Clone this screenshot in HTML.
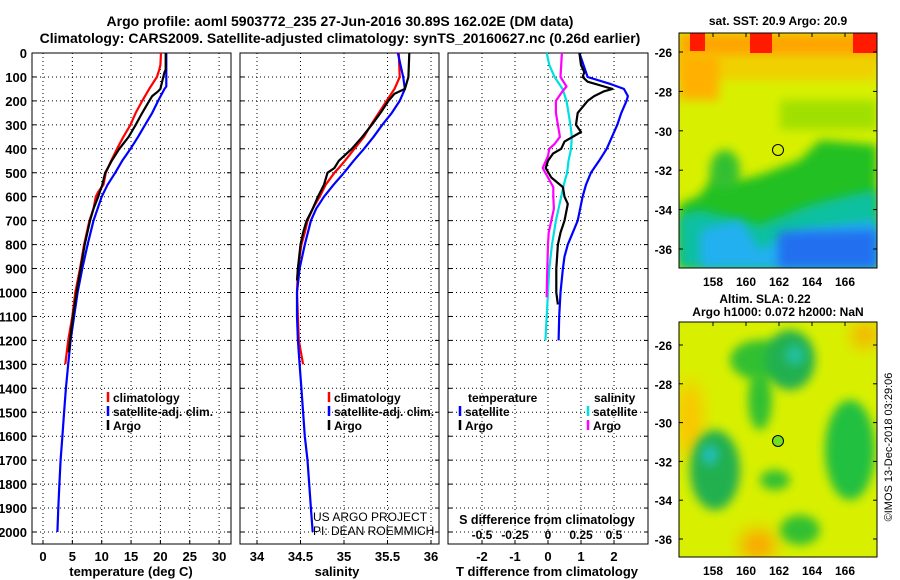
<!DOCTYPE html>
<html><head><meta charset="utf-8"><style>
body{margin:0;background:#fff}
svg{display:block;font-family:"Liberation Sans",sans-serif;font-weight:bold}
</style></head><body>
<svg id="c" width="900" height="580" viewBox="0 0 900 580">
<defs>
<filter id="bl" x="-50%" y="-50%" width="200%" height="200%"><feGaussianBlur stdDeviation="9"/></filter>
<filter id="bl2" x="-50%" y="-50%" width="200%" height="200%"><feGaussianBlur stdDeviation="5"/></filter>
<clipPath id="m1"><rect x="679" y="33" width="198" height="235"/></clipPath>
<clipPath id="m2"><rect x="679" y="322" width="198" height="235"/></clipPath>
</defs>
<text x="340" y="26" text-anchor="middle" font-size="14">Argo profile: aoml 5903772_235 27-Jun-2016 30.89S 162.02E (DM data)</text>
<text x="340" y="43" text-anchor="middle" font-size="14">Climatology: CARS2009. Satellite-adjusted climatology: synTS_20160627.nc (0.26d earlier)</text>
<g id="maps">
<text x="778" y="25" text-anchor="middle" font-size="12">sat. SST: 20.9 Argo: 20.9</text>
<g clip-path="url(#m1)">
<rect x="679" y="33" width="198" height="235" fill="#d8f000"/>
<rect x="679" y="33" width="198" height="30" fill="#ffa500" filter="url(#bl2)"/>
<rect x="679" y="55" width="198" height="25" fill="#f0d000" filter="url(#bl2)"/>
<rect x="679" y="55" width="40" height="45" fill="#ffb000" filter="url(#bl2)"/>
<rect x="690" y="33" width="15" height="18" fill="#ff1a00"/>
<rect x="750" y="33" width="22" height="20" fill="#ff1a00"/>
<rect x="853" y="33" width="24" height="20" fill="#ff1a00"/>
<rect x="780" y="100" width="97" height="30" fill="#a0e000" filter="url(#bl2)"/>
<path d="M679 205 L700 195 L715 175 L740 180 L760 175 L800 160 L820 140 L877 145 L877 268 L679 268Z" fill="#20c020" filter="url(#bl2)"/>
<ellipse cx="725" cy="170" rx="15" ry="20" fill="#30c030" filter="url(#bl2)"/>
<path d="M679 215 L700 210 L760 225 L810 205 L850 195 L877 190 L877 268 L679 268Z" fill="#10c0a0" filter="url(#bl2)"/>
<path d="M700 230 L740 220 L760 250 L800 230 L877 220 L877 268 L700 268Z" fill="#20b0f0" filter="url(#bl2)"/>
<path d="M778 232 L877 230 L877 268 L778 268Z" fill="#2070f0" filter="url(#bl2)"/>
</g>
<rect x="679" y="33" width="198" height="235" fill="none" stroke="#000"/>
<circle cx="778" cy="150" r="5.5" fill="none" stroke="#000"/>
<text x="765" y="303" text-anchor="middle" font-size="12">Altim. SLA: 0.22</text>
<text x="778" y="316" text-anchor="middle" font-size="12">Argo h1000: 0.072 h2000: NaN</text>
<g clip-path="url(#m2)">
<rect x="679" y="322" width="198" height="235" fill="#d8f000"/>
<ellipse cx="690" cy="420" rx="12" ry="40" fill="#ffc000" filter="url(#bl)"/>
<ellipse cx="865" cy="335" rx="12" ry="12" fill="#ffa000" filter="url(#bl)"/>
<ellipse cx="758" cy="545" rx="18" ry="15" fill="#ffa000" filter="url(#bl)"/>
<ellipse cx="760" cy="360" rx="30" ry="20" fill="#30c030" filter="url(#bl2)"/>
<ellipse cx="790" cy="360" rx="25" ry="30" fill="#20b050" filter="url(#bl2)"/>
<ellipse cx="795" cy="355" rx="10" ry="10" fill="#20c0a0" filter="url(#bl2)"/>
<ellipse cx="760" cy="400" rx="12" ry="30" fill="#30c030" filter="url(#bl2)"/>
<ellipse cx="715" cy="470" rx="25" ry="40" fill="#20b050" filter="url(#bl2)"/>
<ellipse cx="710" cy="455" rx="8" ry="10" fill="#20c0c0" filter="url(#bl2)"/>
<ellipse cx="850" cy="450" rx="25" ry="50" fill="#20c040" filter="url(#bl2)"/>
<ellipse cx="775" cy="480" rx="15" ry="10" fill="#30c030" filter="url(#bl2)"/>
<ellipse cx="800" cy="530" rx="20" ry="15" fill="#30c030" filter="url(#bl2)"/>
</g>
<rect x="679" y="322" width="198" height="235" fill="none" stroke="#000"/>
<circle cx="778" cy="441" r="5.5" fill="#70e020" stroke="#000"/>
<text transform="translate(892,447) rotate(-90)" text-anchor="middle" font-size="11" font-weight="normal">©IMOS 13-Dec-2018 03:29:06</text>
</g>
</svg>
<script>
// ---- data ----
const tClimP=[0,50,70,100,150,200,250,300,350,400,450,500,550,580,600,650,700,800,900,1000,1100,1200,1300];
const tClim=[20.1,20.0,19.8,19.4,18.1,16.9,15.8,14.9,13.7,12.6,11.6,10.7,10.3,9.4,9.0,8.6,7.9,7.0,6.3,5.5,5.0,4.3,3.8];
const tSatP=[0,140,150,200,250,300,350,400,450,500,550,600,650,700,800,900,1000,1100,1200,1300,1400,1500,1600,1700,1800,1900,2000];
const tSat=[21.0,21.0,20.7,19.6,18.6,17.4,16.2,14.9,13.5,12.3,11.0,10.0,9.3,8.6,7.6,6.7,5.9,5.3,4.7,4.3,3.9,3.6,3.3,3.0,2.8,2.6,2.45];
const tArgoP=[0,70,80,100,150,160,180,200,250,300,350,400,450,500,550,600,650,700,800,900,1000,1100,1200,1250];
const tArgo=[20.9,20.9,20.7,20.5,20.0,19.6,18.6,18.1,16.9,15.8,14.6,13.0,11.7,10.6,10.1,9.4,8.6,8.0,7.1,6.4,5.7,5.1,4.6,4.4];
const sClimP=[0,100,150,200,250,300,350,400,450,480,500,550,600,650,700,750,800,900,1000,1100,1200,1300];
const sClim=[35.63,35.64,35.58,35.49,35.40,35.31,35.23,35.12,35.01,34.94,34.89,34.79,34.72,34.64,34.58,34.55,34.51,34.47,34.46,34.47,34.48,34.53];
const sSatP=[0,50,100,150,200,250,300,350,400,450,500,550,600,650,700,800,900,1000,1100,1200,1300,1400,1500,1600,1700,1800,1900,2000];
const sSat=[35.62,35.65,35.68,35.70,35.64,35.55,35.44,35.34,35.23,35.11,35.0,34.88,34.77,34.68,34.62,34.55,34.49,34.46,34.46,34.47,34.49,34.51,34.53,34.55,34.58,34.6,34.62,34.64];
const sArgoP=[0,100,150,170,200,250,300,350,400,450,480,500,550,600,650,700,750,800,900,950];
const sArgo=[35.75,35.74,35.70,35.58,35.51,35.42,35.32,35.21,35.09,34.94,34.89,34.81,34.77,34.70,34.64,34.57,34.53,34.50,34.47,34.46];
const dTSatP=[0,100,130,150,180,200,250,300,400,450,500,550,600,700,800,850,900,1000,1100,1200];
const dTSat=[0.95,1.2,1.9,2.3,2.42,2.38,2.22,2.1,1.78,1.55,1.3,1.15,1.05,0.9,0.6,0.5,0.45,0.38,0.34,0.32];
const dTArgoP=[0,50,80,100,120,140,150,160,180,200,250,300,330,370,400,420,450,480,520,560,600,630,700,750,800,900,1000,1050];
const dTArgo=[0.95,1.0,1.1,1.05,1.2,1.7,1.95,1.7,1.4,1.2,0.9,0.85,1.0,0.5,0.4,0.15,0.0,-0.07,0.1,0.45,0.5,0.6,0.5,0.38,0.3,0.25,0.25,0.3];
const dSSatP=[0,50,100,150,200,250,300,350,400,450,500,550,600,700,800,900,1000,1100,1200];
const dSSat=[-0.01,0.01,0.05,0.11,0.14,0.155,0.17,0.18,0.175,0.155,0.145,0.12,0.1,0.06,0.03,0.01,0,-0.01,-0.02];
const dSArgoP=[0,100,140,160,200,250,300,350,380,400,430,480,520,560,600,650,700,750,800,900,1000,1020];
const dSArgo=[0.105,0.095,0.14,0.11,0.06,0.06,0.075,0.09,0.05,0.01,0.0,-0.04,0.0,0.04,0.04,0.045,0.025,0.005,0.0,-0.005,-0.01,-0.01];
const depthTicks=[0,100,200,300,400,500,600,700,800,900,1000,1100,1200,1300,1400,1500,1600,1700,1800,1900,2000];
const tTicks=[0,5,10,15,20,25,30];
const sTicks=[34,34.5,35,35.5,36];
const sTickLabels=["34","34.5","35","35.5","36"];
const dTTicks=[-2,-1,0,1,2];
const dSTicks=[-0.5,-0.25,0,0.25,0.5];
const dSTickLabels=["-0.5","-0.25","0","0.25","0.5"];
const latTicks=[-26,-28,-30,-32,-34,-36];
const lonTicks=[158,160,162,164,166];
// ---- axes ----
const NS="http://www.w3.org/2000/svg";
const svg=document.getElementById('c');
const TOP=53, BOT=544;
const yP=p=>53+0.2395*p;
const xT=t=>43+5.87*t;
const xS=s=>257+87*(s-34);
const xDT=d=>548+33*d;
const xDS=d=>548+132*d;
function el(tag,attrs,parent){const e=document.createElementNS(NS,tag);for(const k in attrs)e.setAttribute(k,attrs[k]);(parent||svg).appendChild(e);return e;}
function txt(x,y,s,size,anchor,parent){const t=el('text',{x:x,y:y,'font-size':size,'text-anchor':anchor||'middle'},parent);t.textContent=s;return t;}
const panels=[{x0:32,x1:231},{x0:240,x1:439},{x0:448,x1:648}];
panels.forEach((pn,i)=>{
  const g=el('g',{});
  
  
  depthTicks.forEach(p=>{const l=el('line',{x1:pn.x0,x2:pn.x1,y1:yP(p),y2:yP(p),stroke:'#000','stroke-dasharray':'1,3','stroke-width':1},g);
    el('line',{x1:pn.x0,x2:pn.x0+4,y1:yP(p),y2:yP(p),stroke:'#000'},g);el('line',{x1:pn.x1-4,x2:pn.x1,y1:yP(p),y2:yP(p),stroke:'#000'},g);});
  const r=el('rect',{x:pn.x0,y:TOP,width:pn.x1-pn.x0,height:BOT-TOP,fill:'none',stroke:'#000'},g);
  
  
});
depthTicks.forEach(p=>{const t=txt(27,yP(p)+5,String(p),13,'end');});
function vgrid(xs,fx,labels,ly,size){xs.forEach((v,i)=>{const x=fx(v);
  const l=el('line',{x1:x,x2:x,y1:TOP,y2:BOT,stroke:'#000','stroke-dasharray':'1,3'});
  
  
  el('line',{x1:x,x2:x,y1:BOT-4,y2:BOT,stroke:'#000'});
  if(labels){const t=txt(x,ly,labels[i],size);}});}
vgrid(tTicks,xT,tTicks.map(String),561,13);
vgrid(sTicks,xS,sTickLabels,561,13);
vgrid(dTTicks,xDT,dTTicks.map(String),561,13);
dSTicks.forEach((v,i)=>{const t=txt(xDS(v),539,dSTickLabels[i],12);});
let t;
t=txt(131,576,'temperature (deg C)',13);
t=txt(337,576,'salinity',13);
t=txt(547,576,'T difference from climatology',13);
t=txt(547,524,'S difference from climatology',12.5);
// ---- series ----
function series(P,V,fx,color,name,w){const pts=P.map((p,i)=>fx(V[i]).toFixed(1)+','+yP(p).toFixed(1)).join(' ');
  const pl=el('polyline',{points:pts,fill:'none',stroke:color,'stroke-width':w||2.2,'stroke-linejoin':'round'});
  
  }
series(tClimP,tClim,xT,'#ff0000','temp-climatology-line');
series(tSatP,tSat,xT,'#0000ff','temp-satellite-line');
series(tArgoP,tArgo,xT,'#000000','temp-argo-line');
series(sClimP,sClim,xS,'#ff0000','sal-climatology-line');
series(sSatP,sSat,xS,'#0000ff','sal-satellite-line');
series(sArgoP,sArgo,xS,'#000000','sal-argo-line');
series(dSSatP,dSSat,xDS,'#00e0e0','sdiff-satellite-line');
series(dSArgoP,dSArgo,xDS,'#ff00ff','sdiff-argo-line');
series(dTSatP,dTSat,xDT,'#0000ff','tdiff-satellite-line');
series(dTArgoP,dTArgo,xDT,'#000000','tdiff-argo-line');
// ---- legends ----
function leg(x,y,color,label){el('line',{x1:x,x2:x,y1:y-10,y2:y,stroke:color,'stroke-width':2.5});
  const t=txt(x+5,y,label,12,'start');}
[[108,'#ff0000','climatology'],[108,'#0000ff','satellite-adj. clim.'],[108,'#000000','Argo']].forEach((a,i)=>leg(a[0],402+i*14,a[1],a[2]));
[[329,'#ff0000','climatology'],[329,'#0000ff','satellite-adj. clim.'],[329,'#000000','Argo']].forEach((a,i)=>leg(a[0],402+i*14,a[1],a[2]));
t=txt(468,402,'temperature',12,'start');
t=txt(594,402,'salinity',12,'start');
leg(460,416,'#0000ff','satellite');leg(460,430,'#000000','Argo');
leg(588,416,'#00e0e0','satellite');leg(588,430,'#ff00ff','Argo');
t=txt(313,521,'US ARGO PROJECT',12,'start');t.setAttribute('font-weight','normal');
t=txt(313,535,'PI: DEAN ROEMMICH',12,'start');t.setAttribute('font-weight','normal');
// map axes
const latY1=v=>52+19.7*(-26-v), latY2=v=>345+19.4*(-26-v), lonX=v=>713+16.5*(v-158);
latTicks.forEach(v=>{
  t=txt(672,latY1(v)+5,String(v),12,'end');
  t=txt(672,latY2(v)+5,String(v),12,'end');
  el('line',{x1:679,x2:683,y1:latY1(v),y2:latY1(v),stroke:'#000'});el('line',{x1:679,x2:683,y1:latY2(v),y2:latY2(v),stroke:'#000'});
  el('line',{x1:873,x2:877,y1:latY1(v),y2:latY1(v),stroke:'#000'});el('line',{x1:873,x2:877,y1:latY2(v),y2:latY2(v),stroke:'#000'});
});
lonTicks.forEach(v=>{
  t=txt(lonX(v),286,String(v),12);
  t=txt(lonX(v),575,String(v),12);
  el('line',{x1:lonX(v),x2:lonX(v),y1:33,y2:37,stroke:'#000'});el('line',{x1:lonX(v),x2:lonX(v),y1:322,y2:326,stroke:'#000'});
});
</script>
</body></html>
